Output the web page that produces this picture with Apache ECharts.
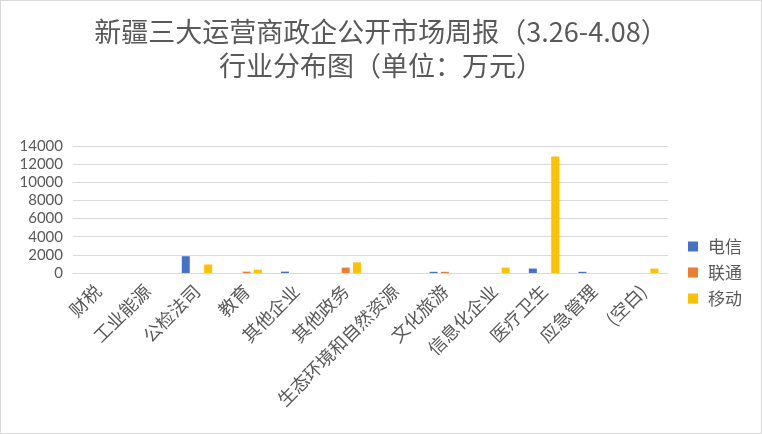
<!DOCTYPE html>
<html><head><meta charset="utf-8">
<script src="https://cdn.jsdelivr.net/npm/echarts@6/dist/echarts.min.js"></script>
<style>
html,body{margin:0;padding:0;background:#fff;}
#c{width:760px;height:432px;border:1px solid #d9d9d9;}
</style></head>
<body><div id="c"></div>
<script>
const categories = ['财税','工业能源','公检法司','教育','其他企业','其他政务','生态环境和自然资源','文化旅游','信息化企业','医疗卫生','应急管理','(空白)'];
const telecom = [0, 0, 1850, 0, 150, 0, 0, 130, 0, 490, 130, 0];
const unicom  = [0, 0, 0, 150, 0, 600, 0, 130, 0, 0, 0, 0];
const mobile  = [0, 0, 940, 380, 0, 1170, 0, 0, 600, 12850, 0, 490];
const seriesNames = ['电信','联通','移动'];
const colors = ['#4472C4','#ED7D31','#FFC000'];

const chart = echarts.init(document.getElementById('c'));
const txt = '#595959';
chart.setOption({
  animation:false,
  title:{
    text:'新疆三大运营商政企公开市场周报（3.26-4.08）\n行业分布图（单位：万元）',
    left:'center', top:9,
    textStyle:{fontFamily:'Noto Sans CJK SC', fontSize:27, fontWeight:'normal', color:txt, lineHeight:34}
  },
  legend:{
    orient:'vertical', right:14, top:232, itemWidth:10, itemHeight:10, itemGap:9,
    icon:'rect',
    textStyle:{fontFamily:'Noto Sans CJK SC', fontSize:17, color:txt, padding:[0,0,0,5]},
    data:seriesNames
  },
  grid:{left:72, right:93, top:145, bottom:160},
  xAxis:{
    type:'category', data:categories,
    axisLine:{lineStyle:{color:'#d9d9d9'}},
    axisTick:{show:false},
    axisLabel:{rotate:45, interval:0, fontFamily:'Noto Sans CJK SC', fontSize:18, color:txt, margin:15}
  },
  yAxis:{
    type:'value', min:0, max:14000, interval:2000,
    axisLine:{show:false}, axisTick:{show:false},
    splitLine:{lineStyle:{color:'#d9d9d9'}},
    axisLabel:{fontFamily:'Lato', fontSize:15, color:txt, margin:10, formatter:function(v){return String(v);}}
  },
  series:[
    {name:seriesNames[0], type:'bar', data:telecom, barWidth:8, barGap:'40%', itemStyle:{color:colors[0]}},
    {name:seriesNames[1], type:'bar', data:unicom, barWidth:8, barGap:'40%', itemStyle:{color:colors[1]}},
    {name:seriesNames[2], type:'bar', data:mobile, barWidth:8, barGap:'40%', itemStyle:{color:colors[2]}}
  ]
});
</script></body></html>
